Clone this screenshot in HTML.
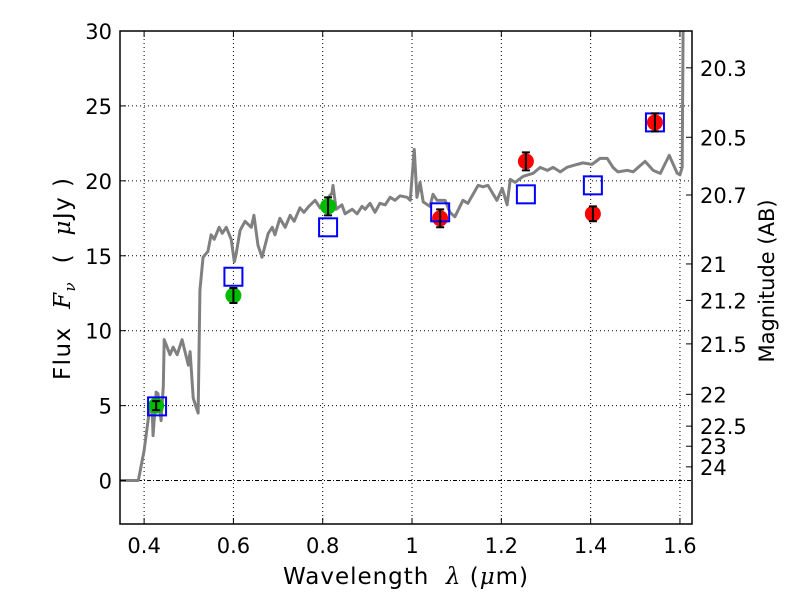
<!DOCTYPE html>
<html><head><meta charset="utf-8"><style>
body{margin:0;background:#fff;}
svg text{font-family:"DejaVu Sans","Liberation Sans",sans-serif;font-size:21px;fill:#000;white-space:pre;}
</style></head><body>
<svg id="chart" width="800" height="600" xmlns="http://www.w3.org/2000/svg">
<rect width="800" height="600" fill="#fff"/>
<g id="grid"></g>
<g id="plot"></g>
<g id="axes"></g>
<text x="283" y="584" style="font-size:23px" textLength="245" lengthAdjust="spacing" xml:space="preserve">Wavelength  <tspan font-style="italic" font-family="DejaVu Serif">λ</tspan> (<tspan font-style="italic" font-family="DejaVu Serif">μ</tspan>m)</text>
<text transform="translate(70,380) rotate(-90)" style="font-size:23px" textLength="202" lengthAdjust="spacing" xml:space="preserve">Flux  <tspan font-style="italic" font-family="DejaVu Serif">F<tspan font-size="15" dy="5">ν</tspan></tspan><tspan dy="-5">  (  </tspan><tspan font-style="italic" font-family="DejaVu Serif">μ</tspan>Jy )</text>
<text transform="translate(774,281) rotate(-90)" text-anchor="middle">Magnitude (AB)</text>
</svg>
<script>
const specLam=[0.346,0.387,0.40,0.411,0.418,0.420,0.427,0.431,0.438,0.443,0.445,0.449,0.458,0.465,0.474,0.485,0.499,0.503,0.510,0.521,0.525,0.532,0.543,0.550,0.557,0.568,0.575,0.584,0.595,0.602,0.606,0.615,0.626,0.640,0.646,0.655,0.664,0.678,0.687,0.693,0.704,0.716,0.727,0.736,0.749,0.758,0.769,0.783,0.794,0.805,0.821,0.823,0.830,0.843,0.850,0.866,0.877,0.888,0.895,0.906,0.917,0.928,0.940,0.951,0.962,0.973,0.989,0.996,1.005,1.011,1.018,1.025,1.040,1.047,1.056,1.074,1.085,1.096,1.114,1.125,1.148,1.159,1.170,1.190,1.202,1.213,1.220,1.231,1.249,1.271,1.287,1.303,1.316,1.332,1.347,1.370,1.383,1.403,1.421,1.437,1.450,1.461,1.482,1.495,1.522,1.540,1.556,1.576,1.594,1.600,1.605,1.607,1.61];
const specFlux=[0,0,2,4.5,4.9,3.0,5.9,5.8,4.0,6.3,9.4,9.1,8.4,8.9,8.4,9.4,7.7,8.6,5.5,4.5,12.7,14.9,15.3,16.4,16.1,16.9,16.5,16.9,16.1,14.6,15.1,16.7,17.3,16.9,17.7,15.7,14.9,16.5,16.9,16.4,17.5,16.9,17.7,17.3,18.2,17.9,18.3,18.7,18.2,18.6,19.2,19.7,18.1,18.4,17.8,18.1,17.8,18.3,18.1,18.5,17.9,18.5,18.4,18.9,18.7,19.0,18.9,18.7,22.1,18.9,19.9,18.6,18.3,19.1,18.7,18.7,17.9,17.6,18.7,18.5,19.7,19.6,19.7,18.7,19.5,18.4,20.1,19.9,20.3,20.5,20.9,20.7,20.9,20.6,20.9,21.1,21.2,21.1,21.5,21.5,20.9,20.6,20.7,20.6,21.3,20.7,20.5,21.7,20.5,20.4,20.9,29.9,31];
const photLam=[0.427,0.600,0.812,1.063,1.255,1.405,1.544];
const photFlux=[5.0,12.35,18.3,17.5,21.3,17.8,23.9];
const photErr=[0.3,0.5,0.6,0.6,0.6,0.5,0.6];
const photColor=['#00bb00','#00bb00','#00bb00','#ff0000','#ff0000','#ff0000','#ff0000'];
const modelLam=[0.429,0.600,0.812,1.063,1.255,1.405,1.544];
const modelFlux=[4.95,13.6,16.9,17.9,19.1,19.7,23.9];
const xTicks=[0.4,0.6,0.8,1.0,1.2,1.4,1.6];
const xTickLabels=['0.4','0.6','0.8','1','1.2','1.4','1.6'];
const yTicks=[0,5,10,15,20,25,30];
const magTicks=[20.3,20.5,20.7,21,21.2,21.5,22,22.5,23,24];
const magLabels=['20.3','20.5','20.7','21','21.2','21.5','22','22.5','23','24'];

const L=120,R=692,T=31,B=524,xmin=0.346,xmax=1.627,ymin=-2.9,ymax=30;
const X=v=>L+(v-xmin)/(xmax-xmin)*(R-L);
const Y=v=>B-(v-ymin)/(ymax-ymin)*(B-T);
const NS='http://www.w3.org/2000/svg';
function mk(tag,attrs,parent){const e=document.createElementNS(NS,tag);for(const k in attrs)e.setAttribute(k,attrs[k]);parent.appendChild(e);return e;}
const grid=document.getElementById('grid'),plot=document.getElementById('plot'),axes=document.getElementById('axes');
xTicks.forEach((t,i)=>{
  const g=mk('line',{x1:X(t),x2:X(t),y1:T,y2:B,stroke:'#000','stroke-width':1,'stroke-dasharray':'1,3'},grid);
  
  
  mk('line',{x1:X(t),x2:X(t),y1:B,y2:B-6,stroke:'#000'},axes);
  mk('line',{x1:X(t),x2:X(t),y1:T,y2:T+6,stroke:'#000'},axes);
  const tx=mk('text',{x:X(t),y:B+29,'text-anchor':'middle'},axes);tx.textContent=xTickLabels[i];
  
  
});
yTicks.forEach(t=>{
  const g=mk('line',{x1:L,x2:R,y1:Y(t),y2:Y(t),stroke:'#000','stroke-width':1,'stroke-dasharray':t===0?'4,2,1,2':'1,3'},grid);
  
  
  mk('line',{x1:L,x2:L+6,y1:Y(t),y2:Y(t),stroke:'#000'},axes);
  const tx=mk('text',{x:L-8,y:Y(t)+8,'text-anchor':'end'},axes);tx.textContent=String(t);
  
  
});
magTicks.forEach((m,i)=>{
  const y=Y(Math.pow(10,(23.9-m)/2.5));
  mk('line',{x1:R,x2:R-6,y1:y,y2:y,stroke:'#000'},axes);
  const tx=mk('text',{x:R+8,y:y+8},axes);tx.textContent=magLabels[i];
  
  
});
const clip=mk('clipPath',{id:'cp'},plot);mk('rect',{x:L,y:T,width:R-L,height:B-T},clip);
const sp=mk('polyline',{points:specLam.map((l,i)=>X(l)+','+Y(specFlux[i])).join(' '),fill:'none',stroke:'#808080','stroke-width':3,'clip-path':'url(#cp)','stroke-linejoin':'round'},plot);


photLam.forEach((l,i)=>{
  const c=mk('circle',{cx:X(l),cy:Y(photFlux[i]),r:8,fill:photColor[i]},plot);
  
  
});
modelLam.forEach((l,i)=>{
  const s=mk('rect',{x:X(l)-9,y:Y(modelFlux[i])-9,width:18,height:18,fill:'none',stroke:'#0000ff','stroke-width':2},plot);
  
  
});
photLam.forEach((l,i)=>{
  const x=X(l),y1=Y(photFlux[i]-photErr[i]),y2=Y(photFlux[i]+photErr[i]);
  const e=mk('path',{d:`M${x},${y1}V${y2}M${x-4},${y1}H${x+4}M${x-4},${y2}H${x+4}`,stroke:'#000','stroke-width':2,fill:'none'},plot);
  
  
});
const fr=mk('rect',{x:L,y:T,width:R-L,height:B-T,fill:'none',stroke:'#000','stroke-width':1.5},axes);


</script>
</body></html>
